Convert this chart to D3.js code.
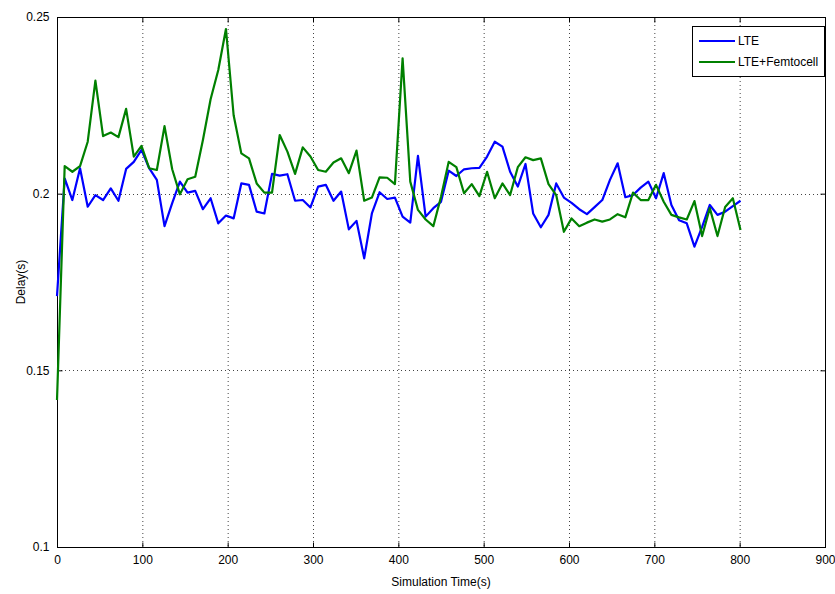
<!DOCTYPE html>
<html><head><meta charset="utf-8">
<script src="https://cdn.jsdelivr.net/npm/d3@7"></script>
<style>body{margin:0;background:#fff}svg{display:block}text{font-family:"Liberation Sans Narrow","Liberation Sans",Arial,sans-serif}</style>
</head><body><svg id="c" width="835" height="594"></svg>
<script>
const times = [0,9,18,27,36,45,54,63,72,81,90,99,108,117,126,135,144,153,162,171,180,189,198,207,216,225,234,243,252,261,270,279,288,297,306,315,324,333,342,351,360,369,378,387,396,405,414,423,432,441,450,459,468,477,486,495,504,513,522,531,540,549,558,567,576,585,594,603,612,621,630,639,648,657,666,675,684,693,702,711,720,729,738,747,756,765,774,783,792,801];
const lte = [0.171,0.2043,0.1982,0.2072,0.1963,0.1996,0.1982,0.2015,0.198,0.207,0.209,0.2124,0.2072,0.2039,0.1908,0.1973,0.2034,0.2003,0.2008,0.1956,0.1987,0.1916,0.1938,0.193,0.2029,0.2025,0.1949,0.1944,0.2056,0.2051,0.2055,0.198,0.1982,0.1961,0.202,0.2025,0.198,0.2006,0.1899,0.1923,0.1817,0.1944,0.2004,0.1985,0.1989,0.1935,0.1918,0.2107,0.1935,0.1959,0.1977,0.2065,0.205,0.2069,0.2072,0.2073,0.2105,0.2147,0.2133,0.2062,0.202,0.2084,0.1944,0.1905,0.194,0.2029,0.1989,0.1974,0.1956,0.1942,0.1962,0.1982,0.2039,0.2086,0.199,0.1996,0.2017,0.2034,0.1987,0.2058,0.1968,0.1925,0.1916,0.185,0.1906,0.1968,0.194,0.1949,0.1965,0.198];
const femto = [0.1416,0.2078,0.2062,0.2078,0.2147,0.232,0.2163,0.2173,0.216,0.224,0.2105,0.2135,0.2072,0.2067,0.2191,0.2069,0.1998,0.2041,0.2048,0.2152,0.2267,0.235,0.2466,0.2222,0.2114,0.21,0.2029,0.2003,0.2003,0.2166,0.2119,0.2056,0.2131,0.2105,0.2067,0.2062,0.2088,0.21,0.2058,0.2122,0.198,0.1989,0.2046,0.2045,0.2027,0.2383,0.2034,0.1954,0.1927,0.1908,0.1991,0.209,0.2075,0.2001,0.2027,0.1993,0.2062,0.1987,0.2029,0.1996,0.2075,0.2103,0.2095,0.21,0.2027,0.1996,0.1892,0.193,0.1908,0.1918,0.1927,0.1921,0.1927,0.1942,0.1933,0.2003,0.1982,0.1982,0.2025,0.1977,0.194,0.1933,0.1927,0.1979,0.188,0.1959,0.188,0.1962,0.1987,0.1897];
const xTicks = [0,100,200,300,400,500,600,700,800,900];
const yTicks = [0.1,0.15,0.2,0.25];
const seriesNames = ["LTE","LTE+Femtocell"];
const seriesColors = ["#0000ff","#008000"];

const L=57, R=825, T=17, B=547;
const svg = d3.select("#c");
const x = d3.scaleLinear().domain([0,900]).range([L,R]);
const y = d3.scaleLinear().domain([0.1,0.25]).range([B,T]);

// grid
const g = svg.append("g");
g.selectAll(".gx").data(xTicks.filter(t=>t>0&&t<900)).enter().append("line")
  .attr("x1",d=>x(d)+0.5).attr("x2",d=>x(d)+0.5).attr("y1",T).attr("y2",B)
  .attr("stroke","#444").attr("stroke-dasharray","1,3").attr("stroke-width",1);
g.selectAll(".gy").data(yTicks.filter(t=>t>0.1&&t<0.25)).enter().append("line")
  .attr("y1",d=>Math.round(y(d))+0.5).attr("y2",d=>Math.round(y(d))+0.5).attr("x1",L).attr("x2",R)
  .attr("stroke","#444").attr("stroke-dasharray","1,3").attr("stroke-width",1);

// axes
const fmtY = d=>String(+d.toFixed(2));
svg.append("g").attr("transform",`translate(0,${B+0.5})`)
  .call(d3.axisBottom(x).tickValues(xTicks).tickSize(-5).tickPadding(8).tickFormat(d3.format("d")))
  .call(a=>{a.select(".domain").remove();a.selectAll("text").attr("font-size",12).attr("fill","#000");a.selectAll("line").attr("stroke","#000");});
svg.append("g").attr("transform",`translate(0,${T+0.5})`)
  .call(d3.axisTop(x).tickValues(xTicks).tickSize(-5).tickFormat(""))
  .call(a=>{a.select(".domain").remove();a.selectAll("line").attr("stroke","#000");});
svg.append("g").attr("transform",`translate(${L+0.5},0)`)
  .call(d3.axisLeft(y).tickValues(yTicks).tickSize(-5).tickPadding(8).tickFormat(fmtY))
  .call(a=>{a.select(".domain").remove();a.selectAll("text").attr("font-size",12).attr("fill","#000");a.selectAll("line").attr("stroke","#000");});
svg.append("g").attr("transform",`translate(${R+0.5},0)`)
  .call(d3.axisRight(y).tickValues(yTicks).tickSize(-5).tickFormat(""))
  .call(a=>{a.select(".domain").remove();a.selectAll("line").attr("stroke","#000");});
svg.append("rect").attr("x",L+0.5).attr("y",T+0.5).attr("width",R-L).attr("height",B-T)
  .attr("fill","none").attr("stroke","#000").attr("stroke-width",1);

// lines
const line = d3.line().x((d,i)=>x(times[i])).y(d=>y(d));
[lte,femto].forEach((s,k)=>{
  svg.append("path").datum(s).attr("d",line).attr("fill","none")
    .attr("stroke",seriesColors[k]).attr("stroke-width",2.2).attr("stroke-linejoin","round");
});

// labels
svg.append("text").attr("x",(L+R)/2).attr("y",586).attr("text-anchor","middle").attr("font-size",12).text("Simulation Time(s)");
svg.append("text").attr("transform","translate(25,282) rotate(-90)").attr("text-anchor","middle").attr("font-size",12).text("Delay(s)");

// legend
const lg = svg.append("g");
lg.append("rect").attr("x",692.5).attr("y",26.5).attr("width",132).attr("height",50).attr("fill","#fff").attr("stroke","#000");
seriesNames.forEach((n,k)=>{
  const yy = 41 + k*21;
  lg.append("line").attr("x1",699).attr("x2",735).attr("y1",yy).attr("y2",yy).attr("stroke",seriesColors[k]).attr("stroke-width",2.2);
  lg.append("text").attr("x",738).attr("y",yy+4).attr("font-size",12).text(n);
});
</script></body></html>
